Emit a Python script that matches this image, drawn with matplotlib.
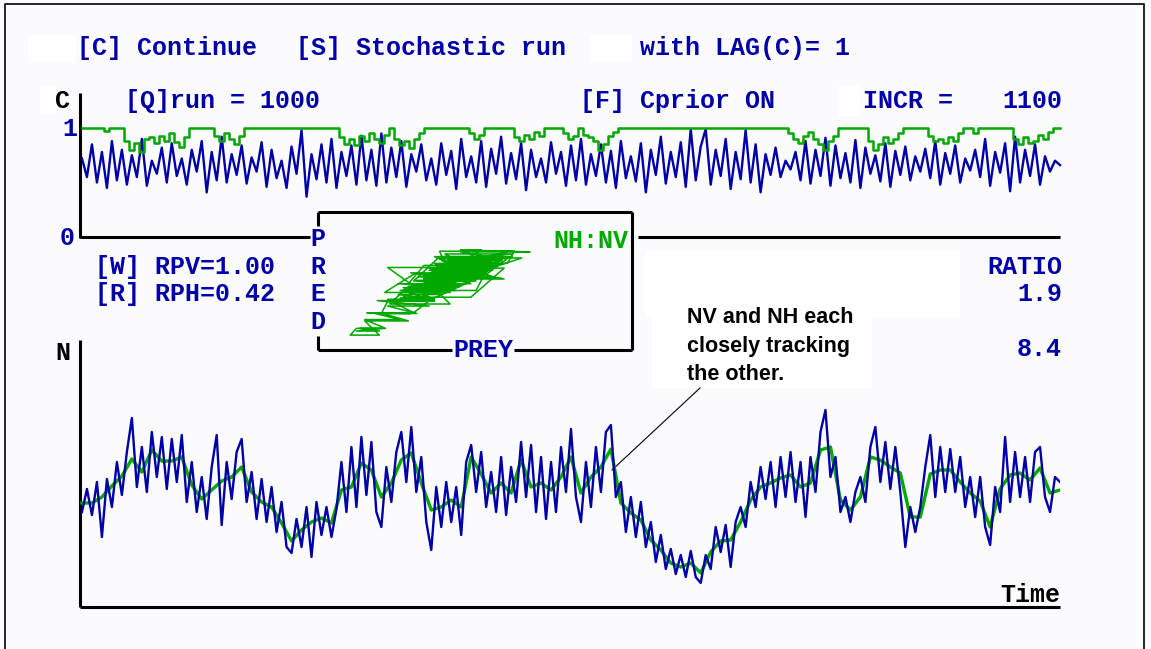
import numpy as np
import matplotlib
matplotlib.use("Agg")
import matplotlib.pyplot as plt

# -- screen size (pixels) ------------------------------------------------------
W, H = 1151, 649
BLUE  = "#0000a8"
GREEN = "#00a800"

# -- data: C series (top panel), 0..1, one value every ~5 time steps -----------
c_blue = [
    0.72, 0.55, 0.85, 0.50, 0.78, 0.45, 0.88, 0.52, 0.80, 0.48,
    0.75, 0.55, 0.90, 0.47, 0.70, 0.58, 0.82, 0.50, 0.86, 0.56,
    0.72, 0.48, 0.80, 0.60, 0.88, 0.41, 0.78, 0.52, 0.92, 0.50,
    0.76, 0.57, 0.84, 0.49, 0.73, 0.60, 0.87, 0.46, 0.80, 0.54,
    0.70, 0.45, 0.83, 0.58, 0.98, 0.37, 0.76, 0.53, 0.85, 0.50,
    0.90, 0.45, 0.78, 0.56, 0.84, 0.48, 0.93, 0.52, 0.80, 0.47,
    0.95, 0.50, 0.82, 0.55, 0.88, 0.46, 0.76, 0.60, 0.85, 0.52,
    0.72, 0.48, 0.86, 0.57, 0.79, 0.44, 0.90, 0.55, 0.74, 0.50,
    0.88, 0.46, 0.81, 0.58, 0.92, 0.49, 0.77, 0.53, 0.86, 0.43,
    0.80, 0.55, 0.72, 0.50, 0.87, 0.58, 0.78, 0.47, 0.84, 0.52,
    0.90, 0.48, 0.76, 0.56, 0.85, 0.50, 0.79, 0.45, 0.88, 0.54,
    0.74, 0.51, 0.86, 0.41, 0.80, 0.57, 0.92, 0.49, 0.78, 0.55,
    0.87, 0.46, 0.99, 0.52, 0.83, 0.99, 0.48, 0.80, 0.56, 0.90,
    0.44, 0.78, 0.53, 0.98, 0.50, 0.85, 0.41, 0.76, 0.57, 0.82,
    0.55, 0.70, 0.62, 0.78, 0.52, 0.88, 0.49, 0.80, 0.56, 0.91,
    0.47, 0.84, 0.54, 0.77, 0.50, 0.89, 0.45, 0.82, 0.58, 0.75,
    0.51, 0.86, 0.46, 0.79, 0.57, 0.83, 0.52, 0.74, 0.60, 0.81,
    0.54, 0.88, 0.48, 0.77, 0.58, 0.84, 0.50, 0.72, 0.61, 0.80,
    0.55, 0.90, 0.47, 0.78, 0.59, 0.86, 0.42, 0.92, 0.50, 0.80,
    0.56, 0.85, 0.48, 0.74, 0.60, 0.70, 0.66,
]
c_green = [
    1, 1, 1, 1, 1, 0.97, 1, 1, 1, 0.88,
    0.80, 0.86, 0.78, 0.90, 0.92, 0.86, 0.93, 0.88, 0.95, 0.87,
    0.83, 0.92, 1, 1, 1, 1, 1, 0.93, 0.88, 0.95,
    0.90, 0.85, 0.93, 1, 1, 1, 1, 1, 1, 1,
    1, 1, 1, 1, 1, 1, 1, 1, 1, 1,
    1, 1, 0.92, 0.85, 0.90, 0.84, 0.93, 0.88, 0.95, 0.90,
    0.86, 0.94, 1, 0.90, 0.84, 0.88, 0.82, 0.90, 0.95, 1,
    1, 1, 1, 1, 1, 1, 1, 1, 0.95, 0.90,
    0.94, 1, 1, 1, 1, 1, 1, 0.92, 0.88, 0.94,
    0.90, 0.96, 0.93, 1, 1, 1, 1, 0.95, 0.90, 0.93,
    1, 0.94, 0.92, 0.88, 0.80, 0.85, 0.93, 0.96, 1, 1,
    1, 1, 1, 1, 1, 1, 1, 1, 1, 1,
    1, 1, 1, 1, 1, 1, 1, 1, 1, 1,
    1, 1, 1, 1, 1, 1, 1, 1, 1, 1,
    1, 1, 0.95, 0.90, 0.86, 0.93, 0.96, 0.90, 0.85, 0.80,
    0.88, 0.93, 1, 1, 1, 1, 1, 1, 0.88, 0.80,
    0.85, 0.92, 0.86, 0.90, 0.95, 1, 1, 1, 1, 1,
    0.93, 0.88, 0.90, 0.86, 0.92, 0.88, 0.95, 1, 1, 0.95,
    1, 1, 1, 1, 1, 1, 1, 0.90, 0.85, 0.92,
    0.86, 0.88, 0.94, 0.90, 0.96, 1, 1,
]

# -- data: N series (bottom panel), NV (blue) and NH (green) ------------------
n_blue = [
    95, 118, 92, 125, 70, 128, 100, 145, 112, 155,
    189, 120, 160, 115, 175, 130, 170, 118, 168, 125,
    172, 105, 145, 95, 130, 88, 140, 172, 82, 145,
    108, 155, 168, 105, 135, 88, 128, 85, 120, 75,
    105, 60, 54, 88, 60, 100, 50, 105, 72, 100,
    70, 98, 145, 95, 160, 100, 170, 112, 165, 95,
    80, 140, 105, 155, 175, 125, 180, 115, 150, 85,
    57, 120, 80, 125, 85, 120, 72, 145, 162, 115,
    155, 100, 135, 95, 150, 92, 140, 105, 165, 110,
    162, 95, 150, 88, 145, 95, 160, 115, 178, 110,
    85, 145, 100, 160, 115, 175, 182, 110, 125, 75,
    110, 70, 105, 60, 85, 45, 72, 38, 58, 33,
    52, 30, 56, 30, 24, 52, 38, 80, 55, 82,
    40, 85, 100, 80, 125, 100, 140, 108, 145, 100,
    150, 110, 155, 105, 145, 90, 150, 115, 175, 197,
    130, 150, 95, 110, 85, 115, 130, 105, 160, 180,
    125, 165, 118, 160, 115, 60, 100, 75, 100, 140,
    172, 110, 160, 115, 158, 115, 150, 100, 130, 90,
    130, 80, 62, 120, 95, 170, 105, 155, 110, 150,
    105, 155, 160, 110, 95, 130, 125,
]
n_green = [
    104, 104, 110, 121, 131, 148, 135, 157, 146, 146,
    150, 122, 108, 117, 126, 130, 140, 115, 105, 100,
    84, 66, 77, 85, 89, 84, 117, 120, 144, 137,
    110, 124, 147, 154, 124, 97, 100, 107, 100, 150,
    133, 114, 124, 114, 147, 120, 124, 117, 130, 150,
    114, 130, 140, 158, 104, 94, 87, 67, 57, 44,
    40, 44, 34, 55, 66, 67, 85, 107, 120, 124,
    129, 132, 120, 124, 157, 160, 107, 97, 110, 150,
    147, 140, 134, 90, 90, 133, 137, 137, 125, 114,
    106, 80, 118, 132, 134, 127, 139, 114, 117,
]

RUN = 1000

# -- helpers --------------------------------------------------------------------
def box(x0, y0, x1, y1):
    """pixel box -> figure fraction rect"""
    return [x0 / W, 1 - y1 / H, (x1 - x0) / W, (y1 - y0) / H]

mono = dict(family=["Liberation Mono", "DejaVu Sans Mono"], weight="bold",
            size=18, va="baseline")

fig = plt.figure(figsize=(W / 100, H / 100), dpi=100, facecolor="#fbfbfd")

# -- screen layer (frame, axis lines, labels) in pixel coords ------------------
bg = fig.add_axes([0, 0, 1, 1])
bg.set_xlim(0, W); bg.set_ylim(H, 0); bg.axis("off")

for (x0, y0, x1, y1) in [(28, 35, 76, 62), (590, 35, 632, 62), (40, 86, 56, 114),
                         (838, 86, 860, 116), (645, 250, 960, 318),
                         (652, 300, 872, 388)]:
    bg.add_patch(plt.Rectangle((x0, y0), x1 - x0, y1 - y0, color="white", lw=0))

bg.plot([5, 5, 1144, 1144], [H, 4, 4, H], color="black", lw=1.2)

LW = 2.2
seg = [
    ([80, 80], [93, 238]), ([80, 310], [237, 237]), ([638, 1060], [237, 237]),
    ([318, 632], [212, 212]), ([632, 632], [212, 350]),
    ([318, 452], [350, 350]), ([514, 632], [350, 350]),
    ([318, 318], [212, 226]), ([318, 318], [336, 350]),
    ([80, 80], [340, 607]), ([80, 1060], [607, 607]),
]
for xs, ys in seg:
    bg.plot(xs, ys, color="black", lw=LW, solid_capstyle="butt")

bg.text(77, 55, "[C] Continue", color=BLUE, **mono)
bg.text(296, 55, "[S] Stochastic run", color=BLUE, **mono)
bg.text(640, 55, "with LAG(C)= 1", color=BLUE, **mono)
bg.text(125, 108, "[Q]run = 1000", color=BLUE, **mono)
bg.text(580, 108, "[F] Cprior ON", color=BLUE, **mono)
bg.text(863, 108, "INCR =", color=BLUE, **mono)
bg.text(1062, 108, "1100", color=BLUE, ha="right", **mono)
bg.text(55, 108, "C", color="black", **mono)
bg.text(62, 136, "1", color=BLUE, **mono)
bg.text(60, 245, "0", color=BLUE, **mono)
bg.text(95, 274, "[W] RPV=1.00", color=BLUE, **mono)
bg.text(95, 301, "[R] RPH=0.42", color=BLUE, **mono)
for ch, yb in zip("PRED", [246, 274, 301, 329]):
    bg.text(318, yb, ch, color=BLUE, ha="center", **mono)
bg.text(628, 248, "NH:NV", color=GREEN, ha="right", **mono)
bg.text(483, 357, "PREY", color=BLUE, ha="center", **mono)
bg.text(1062, 274, "RATIO", color=BLUE, ha="right", **mono)
bg.text(1062, 301, "1.9", color=BLUE, ha="right", **mono)
bg.text(1062, 356, "8.4", color=BLUE, ha="right", **mono)
bg.text(55, 360, "N", color="black", **mono)
bg.text(1060, 602, "Time", color="black", ha="right", **mono)

note = dict(family=["Liberation Sans", "DejaVu Sans"], weight="bold", size=15.5,
            color="black", va="baseline")
for txt, yb in zip(["NV and NH each", "closely tracking", "the other."],
                   [323, 352, 380]):
    bg.text(687, yb, txt, **note)
bg.plot([700, 612], [388, 470], color="black", lw=0.8)

# -- top panel: C ---------------------------------------------------------------
ax_c = fig.add_axes(box(80, 128, 1060, 237))
ax_c.set_xlim(0, RUN); ax_c.set_ylim(0, 1); ax_c.axis("off")
t_c = np.linspace(2, RUN, len(c_blue))
ax_c.plot(t_c, c_blue, color=BLUE, lw=1.7, clip_on=False)
ax_c.plot(t_c, c_green, color=GREEN, lw=1.8, drawstyle="steps-mid", clip_on=False)

# -- bottom panel: NV / NH --------------------------------------------------------
ax_n = fig.add_axes(box(80, 340, 1060, 607))
ax_n.set_xlim(0, RUN); ax_n.set_ylim(0, 267); ax_n.axis("off")
t_g = np.linspace(2, RUN, len(n_green))
t_b = np.linspace(2, RUN, len(n_blue))
ax_n.plot(t_g, n_green, color=GREEN, lw=2.4)
ax_n.plot(t_b, n_blue, color=BLUE, lw=1.7)

# -- inset: predator vs prey phase plot ------------------------------------------
ax_p = fig.add_axes(box(318, 212, 632, 350))
ax_p.set_xlim(-7, 295); ax_p.set_ylim(12, 216); ax_p.axis("off")
pred = np.repeat(n_green, 2)[:len(n_blue)]
ax_p.plot(n_blue, pred, color=GREEN, lw=1.1)

fig.savefig("out.png", dpi=100, facecolor=fig.get_facecolor())
